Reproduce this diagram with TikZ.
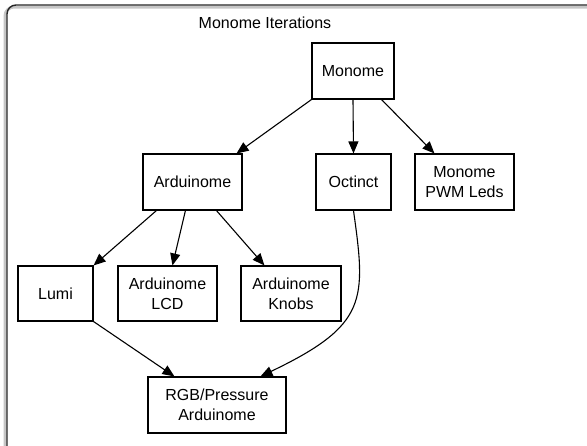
\documentclass[tikz,border=0pt]{standalone}
\usepackage{fontspec}
\setmainfont{Liberation Sans}
\usetikzlibrary{arrows.meta,calc}
\begin{document}
\begin{tikzpicture}[x=1pt,y=-1pt,
  box/.style={draw,line width=1.1pt,inner sep=0pt,align=center,font=\fontsize{16}{20}\selectfont},
  arr/.style={line width=1.1pt,-{Triangle[length=12pt,width=10pt]}}]
\useasboundingbox (0,0) rectangle (587,445);
% frame with shadow
\draw[gray!45,line width=3pt,rounded corners=9pt] (5,7) rectangle (600,462);
\draw[black!85,line width=1.4pt,rounded corners=9pt] (7,5) rectangle (600,460);
\node[font=\fontsize{16}{20}\selectfont] (title) at (265,23) {Monome Iterations};
\node[box,minimum width=82pt,minimum height=56pt] (mon) at (353,71) {Monome};
\node[box,minimum width=99pt,minimum height=56pt] (ard) at (192.5,182) {Arduinome};
\node[box,minimum width=75pt,minimum height=56pt] (oct) at (353.5,182) {Octinct};
\node[box,minimum width=99pt,minimum height=56pt] (pwm) at (464.5,182) {Monome\\PWM Leds};
\node[box,minimum width=75pt,minimum height=55pt] (lumi) at (55.5,293.5) {Lumi};
\node[box,minimum width=99pt,minimum height=55pt] (lcd) at (167.5,293.5) {Arduinome\\LCD};
\node[box,minimum width=100pt,minimum height=55pt] (knob) at (291,293.5) {Arduinome\\Knobs};
\node[box,minimum width=138pt,minimum height=56pt] (rgb) at (217,405) {RGB/Pressure\\Arduinome};
\draw[arr] (mon.south west) -- ($(ard.north east)+(-6,0)$);
\draw[arr] (mon.south) -- (oct.north);
\draw[arr] ($(mon.south east)+(-13,0)$) -- ($(pwm.north west)+(20,0)$);
\draw[arr] ($(ard.south west)+(14,0)$) -- ($(lumi.north east)+(0,0)$);
\draw[arr] ($(ard.south west)+(43,0)$) -- ($(lcd.north west)+(55,0)$);
\draw[arr] ($(ard.south west)+(74,0)$) -- ($(knob.north west)+(24,0)$);
\draw[arr] (lumi.south east) -- ($(rgb.north west)+(27,0)$);
\draw[arr] (oct.south) .. controls (366,300) and (368,325) .. ($(rgb.north west)+(113,0)$);
\end{tikzpicture}
\end{document}
